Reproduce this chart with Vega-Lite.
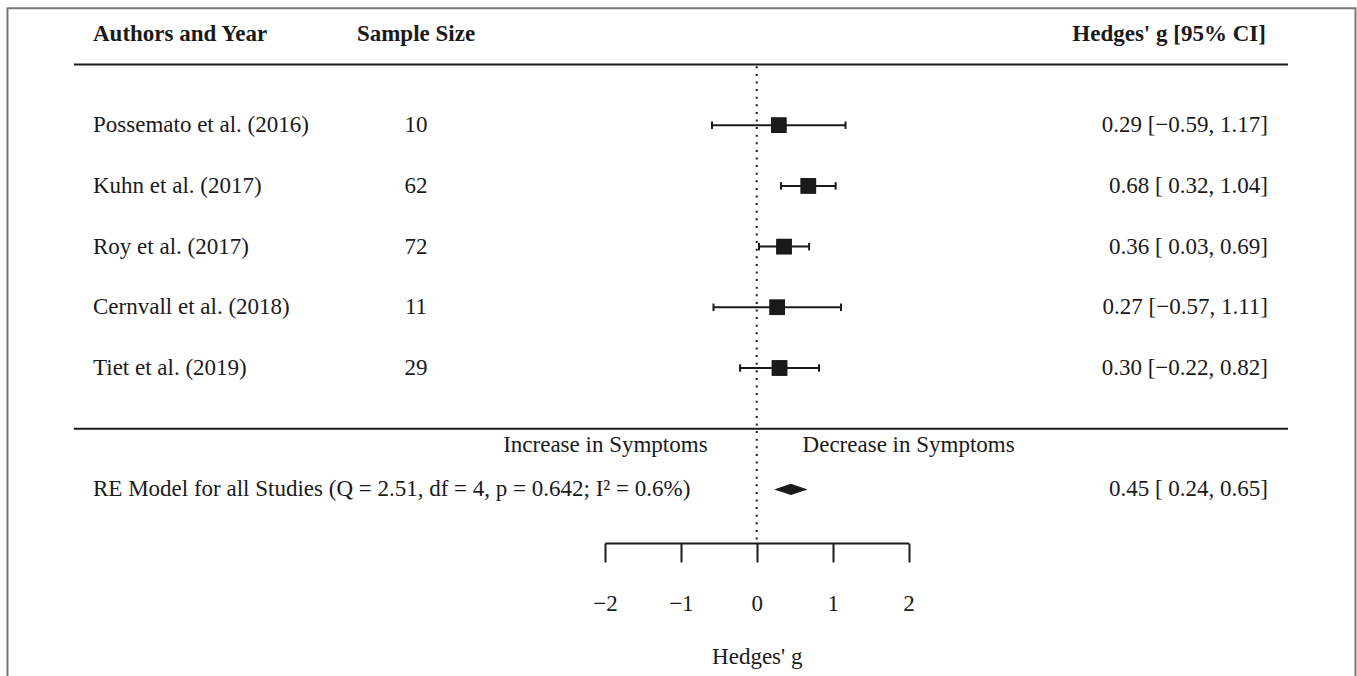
{
  "$schema": "https://vega.github.io/schema/vega-lite/v6.json",
  "width": 1357,
  "height": 543,
  "autosize": {"type": "none"},
  "padding": {"left": 0, "top": 0, "right": 0, "bottom": 133},
  "background": "white",
  "config": {
    "view": {"stroke": null},
    "font": "Liberation Serif",
    "text": {"font": "Liberation Serif", "fontSize": 23, "color": "#1a1a1a"},
    "axisY": {"disable": true},
    "axisX": {
      "grid": false,
      "domainColor": "#1a1a1a", "domainWidth": 2,
      "tickColor": "#1a1a1a", "tickWidth": 2, "tickSize": 19,
      "labelFont": "Liberation Serif", "labelFontSize": 23, "labelColor": "#1a1a1a",
      "labelPadding": 48, "labelBaseline": "alphabetic", "labelFlush": false, "labelOverlap": false,
      "titleFont": "Liberation Serif", "titleFontSize": 23, "titleFontWeight": "normal",
      "titleColor": "#1a1a1a", "titleBaseline": "alphabetic", "titleY": 120
    }
  },
  "datasets": {
    "studies": [
      {"study": "Possemato et al. (2016)", "n": 10, "g": 0.29, "lb": -0.59, "ub": 1.17, "ci": "0.29 [−0.59, 1.17]", "k": 5},
      {"study": "Kuhn et al. (2017)", "n": 62, "g": 0.68, "lb": 0.32, "ub": 1.04, "ci": "0.68 [ 0.32, 1.04]", "k": 4},
      {"study": "Roy et al. (2017)", "n": 72, "g": 0.36, "lb": 0.03, "ub": 0.69, "ci": "0.36 [ 0.03, 0.69]", "k": 3},
      {"study": "Cernvall et al. (2018)", "n": 11, "g": 0.27, "lb": -0.57, "ub": 1.11, "ci": "0.27 [−0.57, 1.11]", "k": 2},
      {"study": "Tiet et al. (2019)", "n": 29, "g": 0.30, "lb": -0.22, "ub": 0.82, "ci": "0.30 [−0.22, 0.82]", "k": 1}
    ],
    "summary": [
      {"model": "RE Model for all Studies (Q = 2.51, df = 4, p = 0.642; I² = 0.6%)", "g": 0.45, "lb": 0.24, "ub": 0.65, "ci": "0.45 [ 0.24, 0.65]", "k": -1}
    ],
    "one": [{}]
  },
  "layer": [
    {
      "data": {"name": "studies"},
      "mark": {"type": "point", "shape": "square", "size": 240, "filled": true, "opacity": 1, "color": "#1a1a1a", "strokeWidth": 0},
      "encoding": {
        "x": {
          "field": "g", "type": "quantitative",
          "scale": {"domain": [-2, 2], "range": [605, 908.5], "nice": false, "zero": false},
          "axis": {"values": [-2, -1, 0, 1, 2], "format": "d", "title": "Hedges' g"}
        },
        "y": {"field": "k", "type": "quantitative", "scale": {"domain": [-1.883, 7.0626], "nice": false, "zero": false}, "axis": null}
      }
    },
    {
      "data": {"name": "one"},
      "mark": {"type": "rule", "color": "#777777", "strokeWidth": 2},
      "encoding": {
        "x": {"datum": -9.875, "type": "quantitative"},
        "x2": {"datum": 7.891},
        "y": {"datum": 6.926, "type": "quantitative", "axis": null}
      }
    },
    {
      "data": {"name": "one"},
      "mark": {"type": "rule", "color": "#777777", "strokeWidth": 2},
      "encoding": {
        "x": {"datum": -9.875, "type": "quantitative"},
        "y": {"datum": 6.94, "type": "quantitative", "axis": null},
        "y2": {"datum": -4.3}
      }
    },
    {
      "data": {"name": "one"},
      "mark": {"type": "rule", "color": "#777777", "strokeWidth": 2},
      "encoding": {
        "x": {"datum": 7.891, "type": "quantitative"},
        "y": {"datum": 6.94, "type": "quantitative", "axis": null},
        "y2": {"datum": -4.3}
      }
    },
    {
      "data": {"name": "one"},
      "mark": {"type": "rule", "color": "#1a1a1a", "strokeWidth": 2},
      "encoding": {
        "x": {"datum": -9, "type": "quantitative"},
        "x2": {"datum": 7.002},
        "y": {"datum": 6, "type": "quantitative", "axis": null}
      }
    },
    {
      "data": {"name": "one"},
      "mark": {"type": "rule", "color": "#1a1a1a", "strokeWidth": 2},
      "encoding": {
        "x": {"datum": -9, "type": "quantitative"},
        "x2": {"datum": 7.002},
        "y": {"datum": 0, "type": "quantitative", "axis": null}
      }
    },
    {
      "data": {"name": "one"},
      "mark": {"type": "rule", "color": "#1a1a1a", "strokeWidth": 2, "strokeDash": [2, 5.6]},
      "encoding": {
        "x": {"datum": 0, "type": "quantitative"},
        "y": {"datum": 5.97, "type": "quantitative", "axis": null},
        "y2": {"datum": -1.84}
      }
    },
    {
      "data": {"name": "studies"},
      "mark": {"type": "rule", "color": "#1a1a1a", "strokeWidth": 2},
      "encoding": {
        "x": {"field": "lb", "type": "quantitative"},
        "x2": {"field": "ub"},
        "y": {"field": "k", "type": "quantitative", "axis": null}
      }
    },
    {
      "data": {"name": "studies"},
      "mark": {"type": "tick", "orient": "vertical", "color": "#1a1a1a", "size": 7.5, "thickness": 2, "opacity": 1},
      "encoding": {
        "x": {"field": "lb", "type": "quantitative"},
        "y": {"field": "k", "type": "quantitative", "axis": null}
      }
    },
    {
      "data": {"name": "studies"},
      "mark": {"type": "tick", "orient": "vertical", "color": "#1a1a1a", "size": 7.5, "thickness": 2, "opacity": 1},
      "encoding": {
        "x": {"field": "ub", "type": "quantitative"},
        "y": {"field": "k", "type": "quantitative", "axis": null}
      }
    },
    {
      "data": {"name": "studies"},
      "mark": {"type": "point", "shape": "square", "size": 240, "filled": true, "opacity": 1, "color": "#1a1a1a", "strokeWidth": 0},
      "encoding": {
        "x": {"field": "g", "type": "quantitative"},
        "y": {"field": "k", "type": "quantitative", "axis": null}
      }
    },
    {
      "data": {"name": "studies"},
      "mark": {"type": "text", "align": "left", "baseline": "middle"},
      "encoding": {
        "x": {"datum": -8.748, "type": "quantitative"},
        "y": {"field": "k", "type": "quantitative", "axis": null},
        "text": {"field": "study"}
      }
    },
    {
      "data": {"name": "studies"},
      "mark": {"type": "text", "align": "center", "baseline": "middle"},
      "encoding": {
        "x": {"datum": -4.491, "type": "quantitative"},
        "y": {"field": "k", "type": "quantitative", "axis": null},
        "text": {"field": "n"}
      }
    },
    {
      "data": {"name": "studies"},
      "mark": {"type": "text", "align": "right", "baseline": "middle"},
      "encoding": {
        "x": {"datum": 6.738, "type": "quantitative"},
        "y": {"field": "k", "type": "quantitative", "axis": null},
        "text": {"field": "ci"}
      }
    },
    {
      "data": {"name": "summary"},
      "mark": {"type": "text", "align": "left", "baseline": "middle"},
      "encoding": {
        "x": {"datum": -8.748, "type": "quantitative"},
        "y": {"field": "k", "type": "quantitative", "axis": null},
        "text": {"field": "model"}
      }
    },
    {
      "data": {"name": "summary"},
      "mark": {"type": "text", "align": "right", "baseline": "middle"},
      "encoding": {
        "x": {"datum": 6.738, "type": "quantitative"},
        "y": {"field": "k", "type": "quantitative", "axis": null},
        "text": {"field": "ci"}
      }
    },
    {
      "data": {"name": "summary"},
      "mark": {"type": "point", "shape": "M-1,0L0,-0.33L1,0L0,0.33Z", "size": 1122, "filled": true, "opacity": 1, "color": "#1a1a1a", "strokeWidth": 0},
      "encoding": {
        "x": {"field": "g", "type": "quantitative"},
        "y": {"field": "k", "type": "quantitative", "axis": null}
      }
    },
    {
      "data": {"name": "one"},
      "mark": {"type": "text", "align": "left", "baseline": "alphabetic", "fontWeight": "bold", "text": "Authors and Year"},
      "encoding": {
        "x": {"datum": -8.748, "type": "quantitative"},
        "y": {"datum": 6.392, "type": "quantitative", "axis": null}
      }
    },
    {
      "data": {"name": "one"},
      "mark": {"type": "text", "align": "center", "baseline": "alphabetic", "fontWeight": "bold", "text": "Sample Size"},
      "encoding": {
        "x": {"datum": -4.491, "type": "quantitative"},
        "y": {"datum": 6.392, "type": "quantitative", "axis": null}
      }
    },
    {
      "data": {"name": "one"},
      "mark": {"type": "text", "align": "right", "baseline": "alphabetic", "fontWeight": "bold", "text": "Hedges' g [95% CI]"},
      "encoding": {
        "x": {"datum": 6.71, "type": "quantitative"},
        "y": {"datum": 6.392, "type": "quantitative", "axis": null}
      }
    },
    {
      "data": {"name": "one"},
      "mark": {"type": "text", "align": "right", "baseline": "middle", "text": "Increase in Symptoms"},
      "encoding": {
        "x": {"datum": -0.648, "type": "quantitative"},
        "y": {"datum": -0.27, "type": "quantitative", "axis": null}
      }
    },
    {
      "data": {"name": "one"},
      "mark": {"type": "text", "align": "left", "baseline": "middle", "text": "Decrease in Symptoms"},
      "encoding": {
        "x": {"datum": 0.604, "type": "quantitative"},
        "y": {"datum": -0.27, "type": "quantitative", "axis": null}
      }
    }
  ]
}
